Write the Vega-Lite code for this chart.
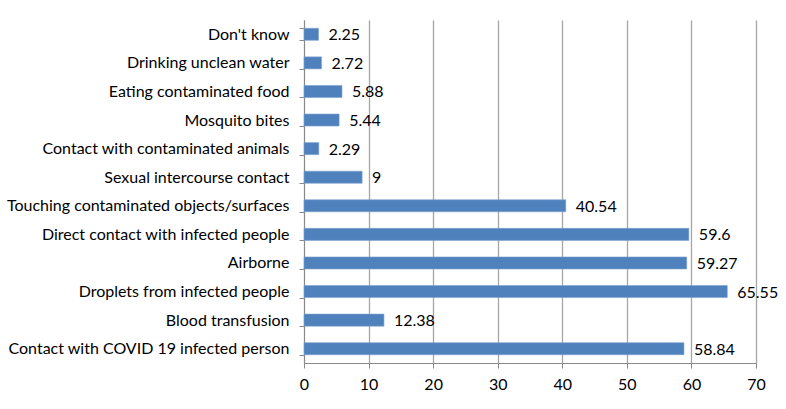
{
  "$schema": "https://vega.github.io/schema/vega-lite/v6.json",
  "width": 452,
  "height": 343,
  "autosize": {"type": "none"},
  "padding": {"left": 304, "top": 20, "right": 30, "bottom": 46},
  "background": "white",
  "config": {"view": {"stroke": null}, "font": "Lato"},
  "data": {"values": [
    {"cause": "Don't know", "value": 2.25},
    {"cause": "Drinking unclean water", "value": 2.72},
    {"cause": "Eating contaminated food", "value": 5.88},
    {"cause": "Mosquito bites", "value": 5.44},
    {"cause": "Contact with contaminated animals", "value": 2.29},
    {"cause": "Sexual intercourse contact", "value": 9},
    {"cause": "Touching contaminated objects/surfaces", "value": 40.54},
    {"cause": "Direct contact with infected people", "value": 59.6},
    {"cause": "Airborne", "value": 59.27},
    {"cause": "Droplets from infected people", "value": 65.55},
    {"cause": "Blood transfusion", "value": 12.38},
    {"cause": "Contact with COVID 19 infected person", "value": 58.84}
  ]},
  "encoding": {
    "y": {"field": "cause", "type": "nominal", "sort": null,
      "scale": {"paddingInner": 0.58, "paddingOuter": 0.29},
      "axis": {"title": null, "tickBand": "extent", "tickSize": 5, "labelPadding": 10,
        "labelFontSize": 16, "labelColor": "#000000", "labelFont": "Lato", "labelFontWeight": "normal",
        "domainColor": "#898989", "tickColor": "#898989", "labelLimit": 400}},
    "x": {"field": "value", "type": "quantitative",
      "scale": {"domain": [0, 70], "nice": false},
      "axis": {"title": null, "values": [0,10,20,30,40,50,60,70], "tickSize": 5, "labelPadding": 8,
        "labelFlush": false, "labelFontSize": 16, "labelColor": "#000000", "labelFont": "Lato",
        "domainColor": "#898989", "tickColor": "#898989", "gridColor": "#A6A6A6", "gridWidth": 1.3, "grid": true}}
  },
  "layer": [
    {"mark": {"type": "bar", "color": "#4F81BD", "stroke": "#7CA1D0", "strokeWidth": 0.6}},
    {"mark": {"type": "text", "align": "left", "baseline": "middle", "dx": 10, "dy": 1, "fontSize": 16, "font": "Lato", "color": "#000000"},
     "encoding": {"text": {"field": "value", "type": "quantitative"}}}
  ]
}
